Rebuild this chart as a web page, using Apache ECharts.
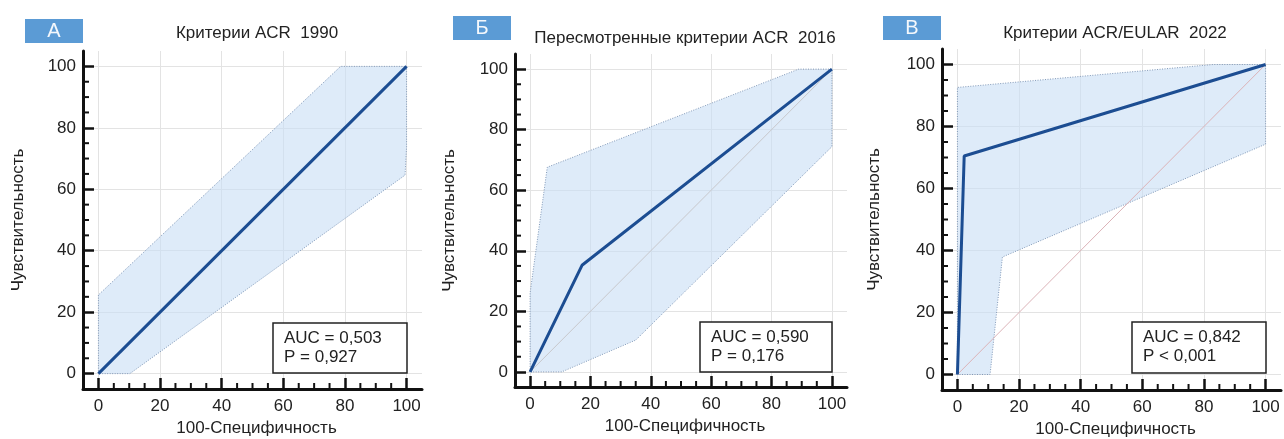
<!DOCTYPE html>
<html><head><meta charset="utf-8">
<script src="https://cdn.jsdelivr.net/npm/echarts@6/dist/echarts.min.js"></script>
<style>html,body{margin:0;padding:0;background:#fff}#c{width:1284px;height:439px}</style>
</head><body><div id="c"></div>
<script>
// ---- data ----
const majorTicks = [0, 20, 40, 60, 80, 100];
const minorTicks = [5, 10, 15, 25, 30, 35, 45, 50, 55, 65, 70, 75, 85, 90, 95];
const panelLetters = ['А', 'Б', 'В'];
const panelTitles = ['Критерии ACR  1990', 'Пересмотренные критерии ACR  2016', 'Критерии ACR/EULAR  2022'];
const aucLabels = ['AUC = 0,503', 'AUC = 0,590', 'AUC = 0,842'];
const pLabels = ['P = 0,927', 'P = 0,176', 'P < 0,001'];
const xName = '100-Специфичность';
const yName = 'Чувствительность';
const diagonal = [[0, 0], [100, 100]];
const rocA = [[0, 0], [100, 100]];
const rocB = [[0, 0], [17.2, 35.2], [100, 100]];
const rocC = [[0, 0], [2.2, 70.5], [100, 100]];
const ciA = [[0, 0], [0, 25.6], [78.6, 100], [100, 100], [100, 73.8], [99.5, 64.6], [10.2, 0]];
const ciB = [[0, 0], [0, 26], [5.7, 67.6], [89, 100], [100, 100], [100, 74.4], [35, 10.5], [10.5, 0]];
const ciC = [[0, 0], [0, 92.6], [83, 100], [100, 100], [100, 74.3], [14.6, 37.9], [10.6, 0]];

// ---- layout / style ----
const FONT = 'Liberation Sans, Arial, sans-serif';
const AX_MIN = -5, AX_MAX = 105;
const grids = [
  {left: 83, top: 51, width: 339, height: 338},
  {left: 515, top: 54, width: 332, height: 333},
  {left: 942, top: 49, width: 339, height: 341}
];
const yNameGap = [56, 57, 59];
const rocs = [rocA, rocB, rocC];
const cis = [ciA, ciB, ciC];
const diagColors = ['#c8c8cc', '#c8c8cc', '#dcb3b8'];
const letterBoxes = [[25, 19], [453, 16], [883, 16]];
const titlePos = [[257, 33], [685, 38], [1115, 33]];
const aucBoxes = [[273, 323, 134, 50], [700, 322, 132, 50], [1132, 322, 134, 51]];
const TICK_COLOR = '#111';

const xAxes = [], yAxes = [], series = [], graphic = [];
grids.forEach((g, i) => {
  xAxes.push({
    type: 'value', gridIndex: i, min: AX_MIN, max: AX_MAX, position: 'bottom',
    axisLine: {show: true, onZero: false, lineStyle: {color: '#111', width: 3}},
    axisTick: {show: true, inside: true, length: 11, customValues: majorTicks, lineStyle: {color: TICK_COLOR, width: 2.5}},
    axisLabel: {customValues: majorTicks, color: '#222', fontSize: 17, margin: 9, fontFamily: FONT},
    splitLine: {show: true, lineStyle: {color: '#e3e3e3', width: 1}},
    name: xName, nameLocation: 'middle', nameGap: 31,
    nameTextStyle: {fontSize: 17, color: '#222', fontFamily: FONT, padding: [0, 0, 0, 8]}
  });
  yAxes.push({
    type: 'value', gridIndex: i, min: AX_MIN, max: AX_MAX, position: 'left',
    axisLine: {show: true, onZero: false, lineStyle: {color: '#111', width: 3}},
    axisTick: {show: true, inside: true, length: 11, customValues: majorTicks, lineStyle: {color: TICK_COLOR, width: 2.5}},
    axisLabel: {customValues: majorTicks, color: '#222', fontSize: 17, margin: 7, fontFamily: FONT},
    splitLine: {show: true, lineStyle: {color: '#e3e3e3', width: 1}},
    name: yName, nameLocation: 'middle', nameGap: yNameGap[i],
    nameTextStyle: {fontSize: 17, color: '#222', fontFamily: FONT}
  });

  const ci = cis[i];
  series.push({
    type: 'custom', xAxisIndex: i, yAxisIndex: i, data: ci, silent: true, z: 1,
    renderItem: (params, api) => {
      if (params.dataIndex !== 0) return null;
      const pts = ci.map(p => api.coord(p));
      return {type: 'polygon', shape: {points: pts},
        style: {fill: 'rgba(200,222,245,0.6)', stroke: '#8299b8', lineWidth: 1, lineDash: [1, 1.5]}};
    }
  });
  series.push({
    type: 'line', xAxisIndex: i, yAxisIndex: i, data: diagonal, showSymbol: false, z: 2,
    lineStyle: {color: diagColors[i], width: 1}, silent: true
  });
  series.push({
    type: 'line', xAxisIndex: i, yAxisIndex: i, data: rocs[i], showSymbol: false, z: 3,
    lineStyle: {color: '#1c4d92', width: 3}, silent: true
  });
  // minor ticks (inside, short), placed through the axis scales
  series.push({
    type: 'custom', xAxisIndex: i, yAxisIndex: i, silent: true, z: 5, clip: false,
    data: minorTicks.map(v => [v, AX_MIN]),
    renderItem: (params, api) => {
      const p = api.coord([api.value(0), AX_MIN]);
      return {type: 'line', shape: {x1: p[0], y1: p[1], x2: p[0], y2: p[1] - 6},
        style: {stroke: TICK_COLOR, lineWidth: 2}};
    }
  });
  series.push({
    type: 'custom', xAxisIndex: i, yAxisIndex: i, silent: true, z: 5, clip: false,
    data: minorTicks.map(v => [AX_MIN, v]),
    renderItem: (params, api) => {
      const p = api.coord([AX_MIN, api.value(1)]);
      return {type: 'line', shape: {x1: p[0], y1: p[1], x2: p[0] + 6, y2: p[1]},
        style: {stroke: TICK_COLOR, lineWidth: 2}};
    }
  });

  const lb = letterBoxes[i];
  graphic.push({type: 'rect', left: lb[0], top: lb[1], shape: {width: 58, height: 24}, style: {fill: '#5b9bd5'}});
  graphic.push({type: 'text', x: lb[0] + 29, y: lb[1] + 12,
    style: {text: panelLetters[i], fill: '#f4f8fc', font: '20px ' + FONT, textAlign: 'center', textVerticalAlign: 'middle'}});
  const tp = titlePos[i];
  graphic.push({type: 'text', x: tp[0], y: tp[1],
    style: {text: panelTitles[i], fill: '#222', font: '17px ' + FONT, textAlign: 'center', textVerticalAlign: 'middle'}});
  const ab = aucBoxes[i];
  graphic.push({type: 'rect', shape: {x: ab[0], y: ab[1], width: ab[2], height: ab[3]},
    style: {fill: '#fff', stroke: '#222', lineWidth: 1.5}, z: 10});
  graphic.push({type: 'text', x: ab[0] + 11, y: ab[1] + 15, z: 11,
    style: {text: aucLabels[i], fill: '#222', font: '17px ' + FONT, textAlign: 'left', textVerticalAlign: 'middle'}});
  graphic.push({type: 'text', x: ab[0] + 11, y: ab[1] + 34, z: 11,
    style: {text: pLabels[i], fill: '#222', font: '17px ' + FONT, textAlign: 'left', textVerticalAlign: 'middle'}});
});

const chart = echarts.init(document.getElementById('c'), null, {renderer: 'canvas'});
chart.setOption({
  animation: false,
  backgroundColor: '#fff',
  grid: grids.map(g => Object.assign({containLabel: false, outerBoundsMode: 'none'}, g)),
  xAxis: xAxes,
  yAxis: yAxes,
  series: series,
  graphic: graphic
});
</script>
</body></html>
